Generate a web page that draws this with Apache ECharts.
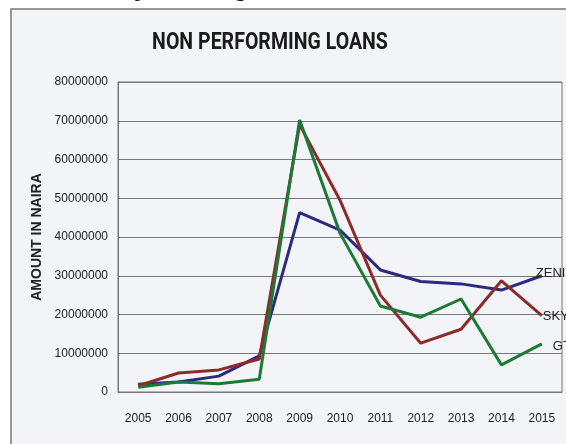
<!DOCTYPE html>
<html><head><meta charset="utf-8">
<script src="https://cdn.jsdelivr.net/npm/echarts@6/dist/echarts.min.js"></script>
<style>html,body{margin:0;padding:0;background:#fff}#c{width:566px;height:444px}</style>
</head><body><div id="c"></div>
<script>
const years = ['2005','2006','2007','2008','2009','2010','2011','2012','2013','2014','2015'];
const zenith = [2000000, 2600000, 4100000, 9300000, 46300000, 41800000, 31500000, 28500000, 27900000, 26300000, 30000000];
const sky    = [1600000, 4900000, 5700000, 8500000, 69000000, 49500000, 25000000, 12600000, 16200000, 28700000, 19700000];
const gt     = [1200000, 2600000, 2100000, 3300000, 70200000, 41000000, 22200000, 19300000, 24000000, 7000000, 12400000];
const seriesNames = ['ZENITH', 'SKY', 'GT'];
const yTicks = [0, 10000000, 20000000, 30000000, 40000000, 50000000, 60000000, 70000000, 80000000];

const chart = echarts.init(document.getElementById('c'));
const colors = ['#2b2a7c', '#8c2b2b', '#1d7a35'];
const offsets = [[-8, -2], [-1, 1], [9, 2]];
function mk(name, data, i) {
  return {
    name, type: 'line', data, symbol: 'none', smooth: false,
    lineStyle: {color: colors[i], width: 3},
    itemStyle: {color: colors[i]},
    endLabel: {show: true, formatter: name, color: '#222', fontSize: 13,
      fontFamily: 'Liberation Sans, sans-serif', offset: offsets[i], distance: 2},
    z: 3 + i
  };
}
chart.setOption({
  animation: false,
  backgroundColor: '#ffffff',
  graphic: [
    {type: 'rect', shape: {x: 11, y: 9, width: 600, height: 500}, style: {fill: '#f3f4f8', stroke: '#777', lineWidth: 1.5}, z: -10},
    {type: 'text', x: 312, y: 2, z: -5, style: {text: 'ratio of non performing loans.', align: 'right', verticalAlign: 'bottom',
      font: '25px "Liberation Serif", serif', fill: '#111'}},
    {type: 'text', x: 270, y: 43, scaleX: 0.85, z: 10,
      style: {text: 'NON PERFORMING LOANS', align: 'center', verticalAlign: 'middle',
        font: 'bold 23px Roboto, sans-serif', fill: '#1a1a1a'}}
  ],
  grid: {left: 118, right: 4, top: 82, bottom: 52, containLabel: false, show: true, borderColor: '#777', borderWidth: 1},
  xAxis: {
    type: 'category', data: years, boundaryGap: true,
    axisLine: {lineStyle: {color: '#777'}}, axisTick: {show: false},
    axisLabel: {color: '#222', fontSize: 12, margin: 21, fontFamily: 'Liberation Sans, sans-serif'}
  },
  yAxis: {
    type: 'value', min: 0, max: 80000000, interval: 10000000,
    name: 'AMOUNT IN NAIRA', nameLocation: 'middle', nameGap: 73, nameRotate: 90,
    nameTextStyle: {fontWeight: 'bold', fontSize: 14, color: '#222', fontFamily: 'Liberation Sans, sans-serif'},
    axisLine: {show: true, lineStyle: {color: '#777'}},
    axisTick: {show: false},
    axisLabel: {color: '#222', fontSize: 12, margin: 10, fontFamily: 'Liberation Sans, sans-serif',
      formatter: v => yTicks.includes(v) ? String(v) : ''},
    splitLine: {lineStyle: {color: '#777', width: 1}}
  },
  series: [mk(seriesNames[0], zenith, 0), mk(seriesNames[1], sky, 1), mk(seriesNames[2], gt, 2)]
});
</script></body></html>
